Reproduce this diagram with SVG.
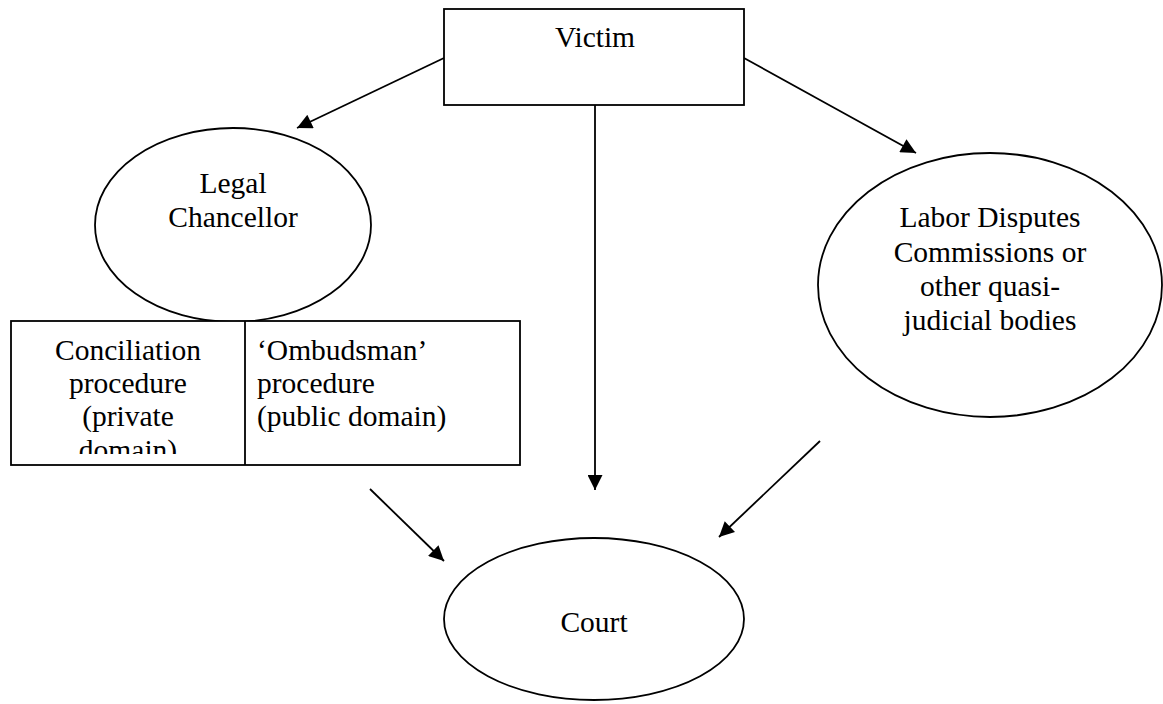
<svg xmlns="http://www.w3.org/2000/svg" width="1163" height="704" viewBox="0 0 1163 704">
<style>
.s{fill:#fff;stroke:#000;stroke-width:1.8}
.t{font-family:"Liberation Serif","Times New Roman",serif;font-size:29.5px;fill:#000}
.c{text-anchor:middle}
.e{stroke:#000;stroke-width:1.8;fill:none}
</style>
<defs>
<marker id="ah" viewBox="0 0 10 10" refX="10" refY="5" markerWidth="16" markerHeight="15" markerUnits="userSpaceOnUse" orient="auto">
<path d="M0,0 L10,5 L0,10 z" fill="#000"/>
</marker>
<clipPath id="cp"><rect x="11" y="321" width="509" height="133"/></clipPath>
</defs>
<g id="edges">
<line class="e" x1="444" y1="58" x2="297" y2="128" marker-end="url(#ah)"/>
<line class="e" x1="744" y1="58" x2="916" y2="153" marker-end="url(#ah)"/>
<line class="e" x1="595" y1="105" x2="595" y2="490" marker-end="url(#ah)"/>
<line class="e" x1="370" y1="489" x2="444" y2="561" marker-end="url(#ah)"/>
<line class="e" x1="820" y1="441" x2="719" y2="537" marker-end="url(#ah)"/>
</g>
<g id="victim">
<rect class="s" x="444" y="9" width="300" height="96"/>
<text class="t c" x="595" y="47">Victim</text>
</g>
<g id="legal">
<ellipse class="s" cx="233" cy="225" rx="138" ry="97"/>
<text class="t c" x="233" y="193">Legal</text>
<text class="t c" x="233" y="227">Chancellor</text>
</g>
<g id="procedures">
<rect class="s" x="11" y="321" width="509" height="144"/>
<line class="e" x1="245" y1="321" x2="245" y2="465"/>
<g clip-path="url(#cp)">
<text class="t c" x="128" y="360">Conciliation</text>
<text class="t c" x="128" y="393">procedure</text>
<text class="t c" x="128" y="426">(private</text>
<text class="t c" x="128" y="460">domain)</text>
</g>
<text class="t" x="257" y="360">‘Ombudsman’</text>
<text class="t" x="257" y="393">procedure</text>
<text class="t" x="257" y="426">(public domain)</text>
</g>
<g id="labor">
<ellipse class="s" cx="990" cy="285" rx="172" ry="132"/>
<text class="t c" x="990" y="227">Labor Disputes</text>
<text class="t c" x="990" y="262">Commissions or</text>
<text class="t c" x="990" y="296">other quasi-</text>
<text class="t c" x="990" y="330">judicial bodies</text>
</g>
<g id="court">
<ellipse class="s" cx="594" cy="619" rx="150" ry="81"/>
<text class="t c" x="594" y="632">Court</text>
</g>
</svg>
